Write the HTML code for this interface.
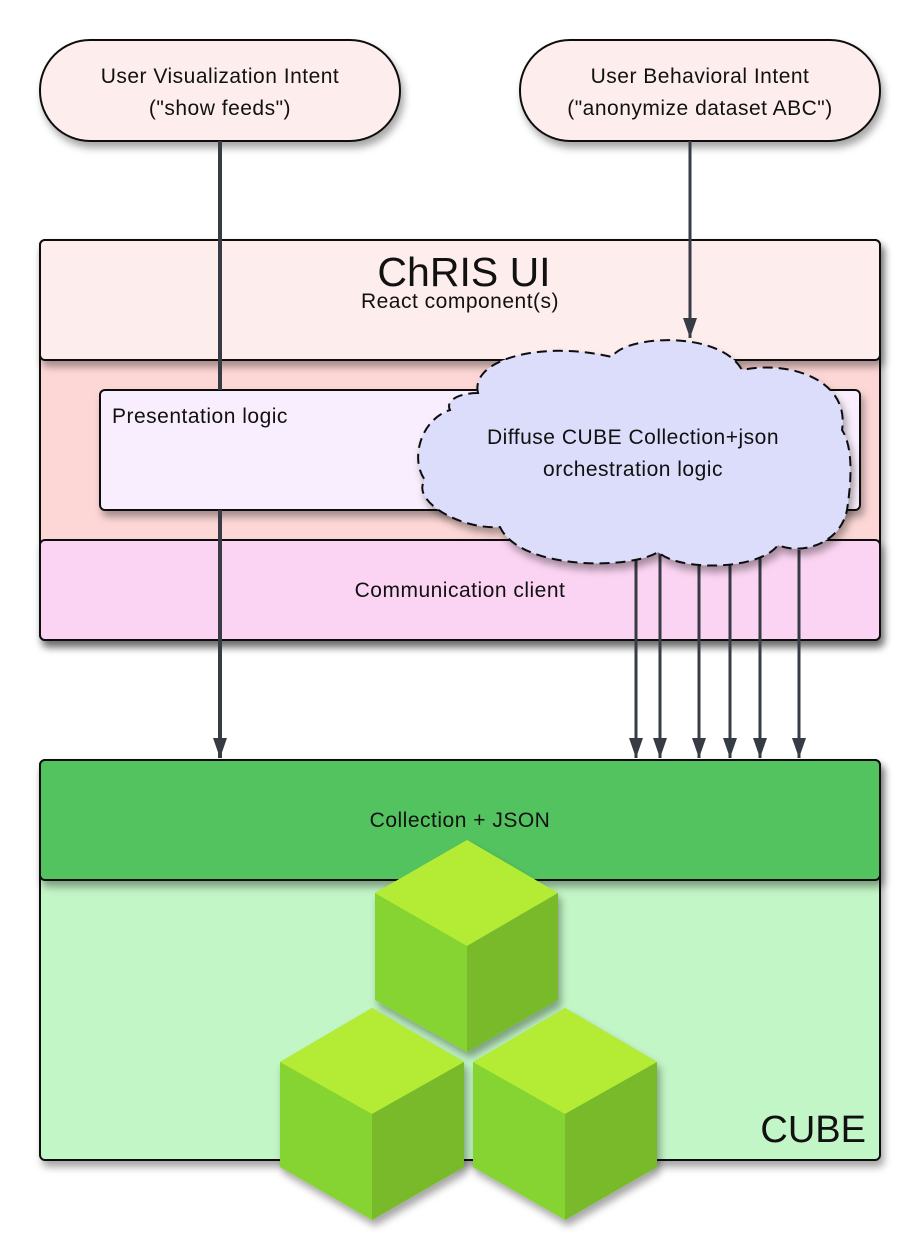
<!DOCTYPE html>
<html><head><meta charset="utf-8"><style>
html,body{margin:0;padding:0;background:#fff;}
svg{display:block;font-family:"Liberation Sans",sans-serif;}
.t{font-size:21px;letter-spacing:0.5px;fill:#111;}
</style></head><body>
<svg width="920" height="1260" viewBox="0 0 920 1260" xmlns="http://www.w3.org/2000/svg">
<defs>
<filter id="sh" x="-10%" y="-10%" width="130%" height="130%"><feDropShadow dx="3" dy="6" stdDeviation="4" flood-color="#000" flood-opacity="0.35"/></filter>
<marker id="ah" markerWidth="20" markerHeight="14" refX="20" refY="7" orient="auto" markerUnits="userSpaceOnUse" viewBox="0 0 20 14"><path d="M0,0 L20,7 L0,14 Z" fill="#363b44"/></marker>
</defs>
<!-- ovals -->
<rect x="40" y="40" width="360" height="101" rx="50" fill="#fdeeed" stroke="#111" stroke-width="2" filter="url(#sh)"/>
<text x="220" y="83" class="t" text-anchor="middle">User Visualization Intent</text>
<text x="220" y="115" class="t" text-anchor="middle">("show feeds")</text>
<rect x="520" y="40" width="360" height="101" rx="50" fill="#fdeeed" stroke="#111" stroke-width="2" filter="url(#sh)"/>
<text x="700" y="83" class="t" text-anchor="middle">User Behavioral Intent</text>
<text x="700" y="115" class="t" text-anchor="middle">("anonymize dataset ABC")</text>
<!-- ChRIS UI -->
<rect x="40" y="240" width="840" height="400" rx="5" fill="#fdd7d6" stroke="#111" stroke-width="2" filter="url(#sh)"/>
<rect x="40" y="240" width="840" height="120" rx="5" fill="#fdeeed" stroke="#111" stroke-width="2" filter="url(#sh)"/>
<text x="464" y="286" font-size="41" text-anchor="middle" fill="#111">ChRIS UI</text>
<text x="460" y="308" class="t" text-anchor="middle">React component(s)</text>
<rect x="100" y="390" width="760" height="120" rx="5" fill="#f9eefd" stroke="#111" stroke-width="2" filter="url(#sh)"/>
<text x="112" y="423" class="t">Presentation logic</text>
<rect x="40" y="540" width="840" height="100" rx="5" fill="#fcd4f3" stroke="#111" stroke-width="2" filter="url(#sh)"/>
<text x="460" y="597" class="t" text-anchor="middle">Communication client</text>
<!-- left arrow -->
<line x1="220" y1="141" x2="220" y2="390" stroke="#363b44" stroke-width="4"/>
<line x1="220" y1="510" x2="220" y2="758" stroke="#363b44" stroke-width="4" marker-end="url(#ah)"/>
<!-- right arrow -->
<line x1="690" y1="141" x2="690" y2="338" stroke="#363b44" stroke-width="3" marker-end="url(#ah)"/>
<!-- six arrows -->
<g stroke="#363b44" stroke-width="3" marker-end="url(#ah)">
<line x1="636" y1="550" x2="636" y2="758"/>
<line x1="660" y1="550" x2="660" y2="758"/>
<line x1="699" y1="550" x2="699" y2="758"/>
<line x1="730" y1="550" x2="730" y2="758"/>
<line x1="760" y1="550" x2="760" y2="758"/>
<line x1="799" y1="550" x2="799" y2="758"/>
</g>
<!-- cloud -->
<path d="M478,393 C470,360 540,340 612,357 C625,335 720,330 742,370 C790,360 850,380 842,430 C855,450 850,490 847,510 C840,545 800,555 778,545 C760,570 680,572 658,552 C630,570 520,570 500,527 C460,530 410,500 425,480 C410,460 420,420 450,410 C445,400 460,393 478,393 Z" fill="#dcdcfb" stroke="#111" stroke-width="2" stroke-dasharray="10,6" filter="url(#sh)"/>
<text x="633" y="444" class="t" text-anchor="middle">Diffuse CUBE Collection+json</text>
<text x="633" y="476" class="t" text-anchor="middle">orchestration logic</text>
<!-- CUBE -->
<rect x="40" y="760" width="840" height="400" rx="5" fill="#c2f6c6" stroke="#111" stroke-width="2" filter="url(#sh)"/>
<rect x="40" y="760" width="840" height="120" rx="5" fill="#53c35f" stroke="#111" stroke-width="2" filter="url(#sh)"/>
<text x="460" y="827" class="t" text-anchor="middle">Collection + JSON</text>
<text x="866" y="1142" font-size="38" text-anchor="end" fill="#111">CUBE</text>
<!-- cubes -->
<g filter="url(#sh)">
<polygon points="467,840 558,893 558,1000 467,1052 375,1000 375,893" fill="#86d431"/>
<polygon points="467,840 558,893 467,946 375,893" fill="#b4ec35"/>
<polygon points="467,946 558,893 558,1000 467,1052" fill="#78ba2c"/>
</g>
<g filter="url(#sh)">
<polygon points="372,1008 464,1062 464,1167 372,1220 280,1167 280,1062" fill="#86d431"/>
<polygon points="372,1008 464,1062 372,1114 280,1062" fill="#b4ec35"/>
<polygon points="372,1114 464,1062 464,1167 372,1220" fill="#78ba2c"/>
</g>
<g filter="url(#sh)">
<polygon points="565,1008 657,1062 657,1167 565,1220 473,1167 473,1062" fill="#86d431"/>
<polygon points="565,1008 657,1062 565,1114 473,1062" fill="#b4ec35"/>
<polygon points="565,1114 657,1062 657,1167 565,1220" fill="#78ba2c"/>
</g>
</svg>
</body></html>
